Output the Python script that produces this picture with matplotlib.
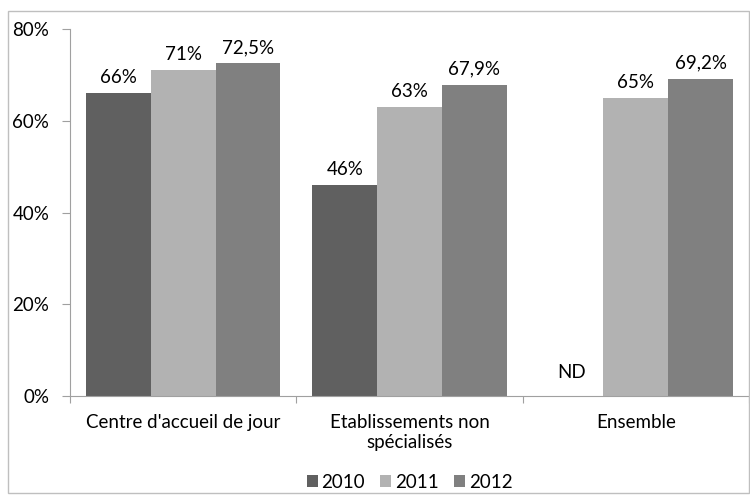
import numpy as np
import matplotlib.pyplot as plt
from matplotlib.patches import Rectangle

# Data
categories = ["Centre d'accueil de jour", "Etablissements non\nspécialisés", "Ensemble"]
years = ["2010", "2011", "2012"]
values_2010 = [66, 46, None]
values_2011 = [71, 63, 65]
values_2012 = [72.5, 67.9, 69.2]
labels_2010 = ["66%", "46%", "ND"]
labels_2011 = ["71%", "63%", "65%"]
labels_2012 = ["72,5%", "67,9%", "69,2%"]

colors = ["#606060", "#b2b2b2", "#808080"]

plt.rcParams['font.family'] = ['Lato', 'DejaVu Sans']
fs = 13.5

fig = plt.figure(figsize=(7.5, 4.95), dpi=100)
ax = fig.add_axes([70 / 750, 1 - 396 / 495, 679 / 750, 367 / 495])

# outer chart frame
fig.patches.append(Rectangle((8 / 750, 2 / 495), 741 / 750, 482 / 495,
                             transform=fig.transFigure, fill=False,
                             edgecolor="#bfbfbf", linewidth=1))

x = np.arange(len(categories))
w = 0.286
series = [values_2010, values_2011, values_2012]
labels = [labels_2010, labels_2011, labels_2012]

for i, (vals, labs) in enumerate(zip(series, labels)):
    pos = x + (i - 1) * w
    heights = [v if v is not None else 0 for v in vals]
    ax.bar(pos, heights, width=w, color=colors[i], label=years[i])
    for p, v, h, lab in zip(pos, vals, heights, labs):
        off = 5 if v is not None else 11
        ax.annotate(lab, (p, h), xytext=(0, off), textcoords="offset points",
                    ha="center", va="bottom", fontsize=fs)

ax.set_xlim(-0.5, 2.5)
ax.set_ylim(0, 80)
ax.set_yticks([0, 20, 40, 60, 80])
ax.set_yticklabels(["0%", "20%", "40%", "60%", "80%"], fontsize=fs)

# category boundaries as major ticks, labels on minor ticks
ax.set_xticks([-0.5, 0.5, 1.5, 2.5])
ax.set_xticklabels([])
ax.set_xticks(x, minor=True)
ax.set_xticklabels(categories, minor=True, fontsize=fs)
ax.tick_params(axis="x", which="minor", length=0, pad=13)
ax.tick_params(axis="x", which="major", length=5, color="#a0a0a0")
ax.tick_params(axis="y", length=6, color="#a0a0a0", pad=9)

for s in ["top", "right"]:
    ax.spines[s].set_visible(False)
for s in ["left", "bottom"]:
    ax.spines[s].set_color("#a0a0a0")

ax.legend(loc="center", bbox_to_anchor=(0.5, -86 / 367), ncol=3,
          frameon=False, handlelength=0.6, handleheight=0.6,
          handletextpad=0.2, columnspacing=0.8, fontsize=fs)

fig.savefig("out.png", dpi=100)
